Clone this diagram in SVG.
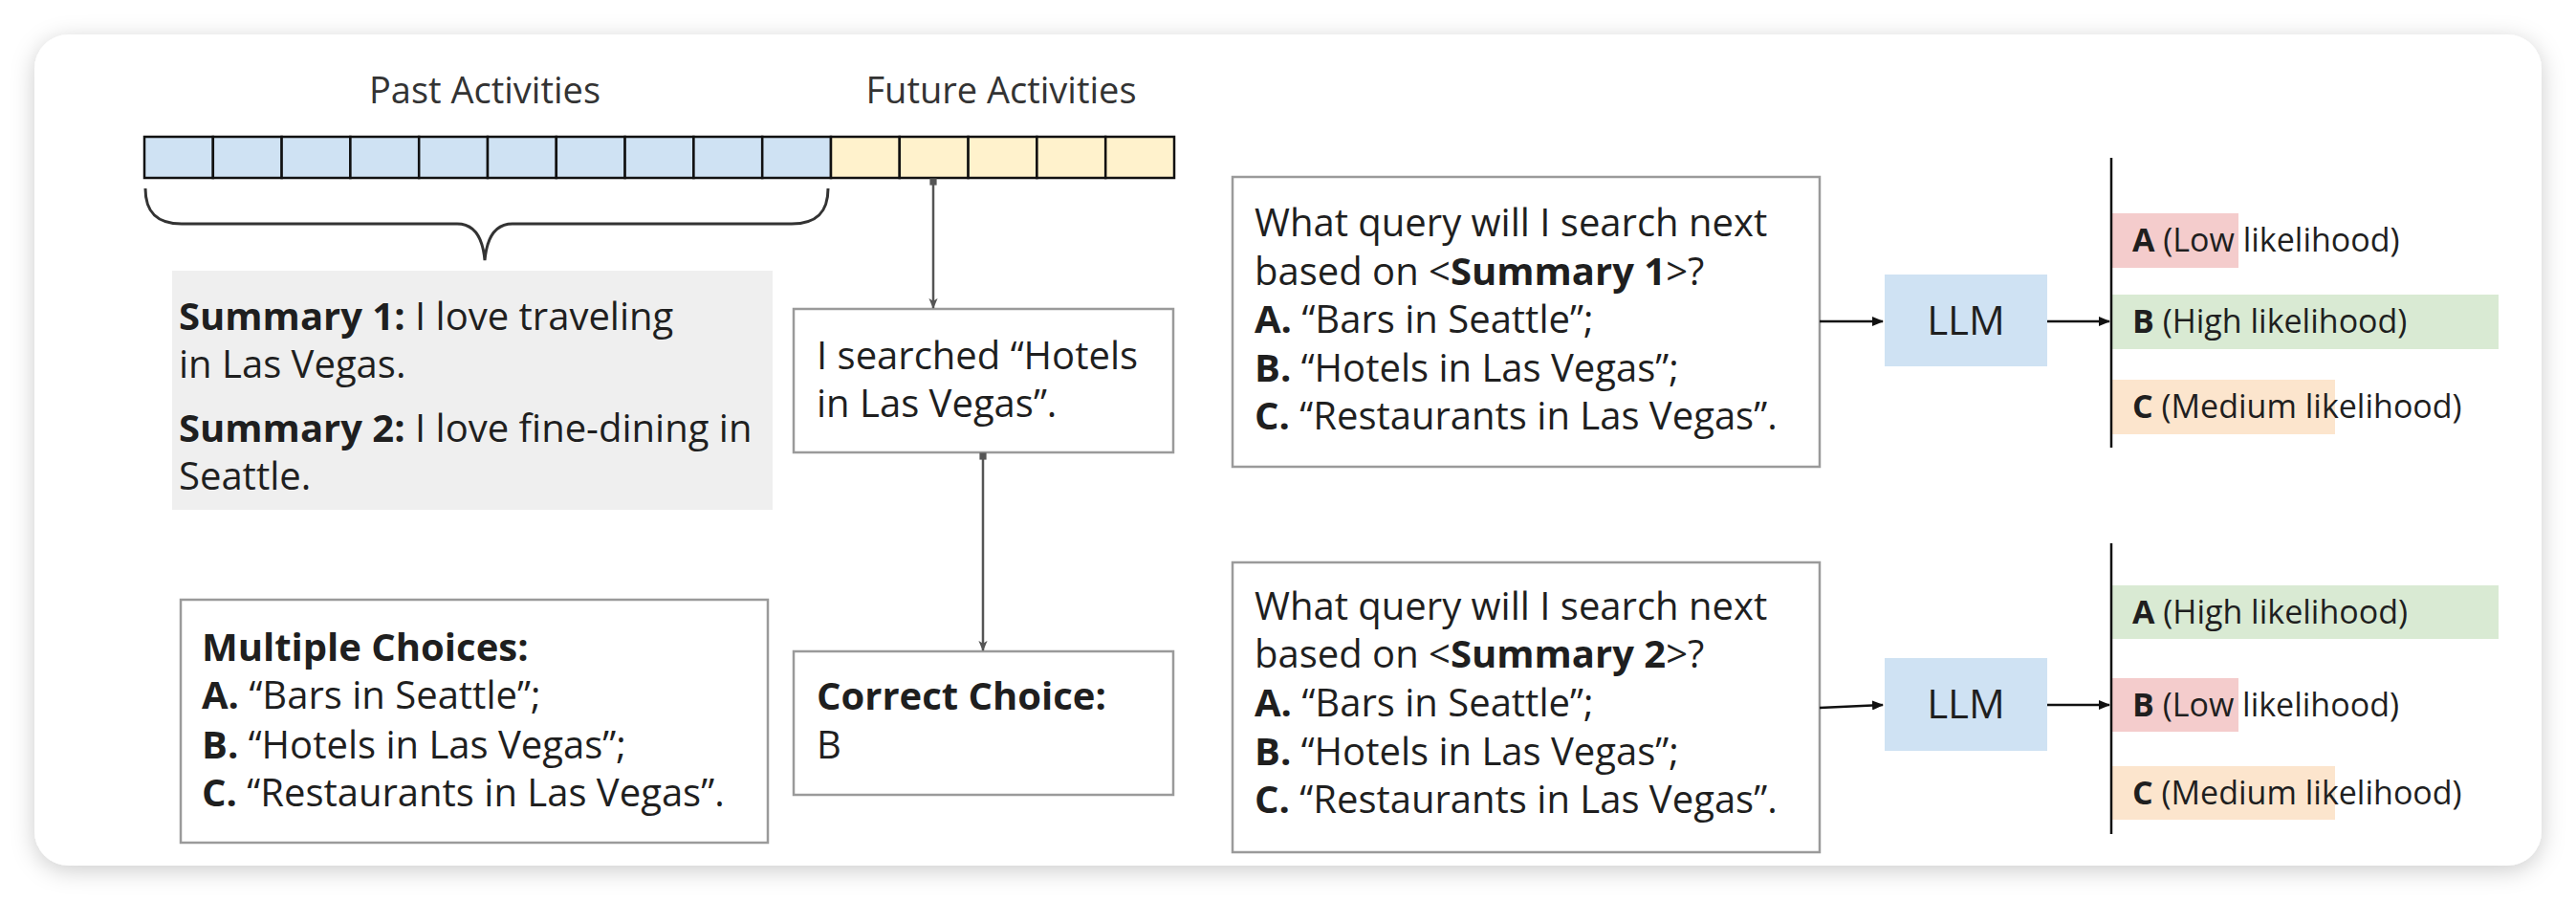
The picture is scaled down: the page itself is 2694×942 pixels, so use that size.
<svg xmlns="http://www.w3.org/2000/svg" width="2694" height="942" viewBox="0 0 2694 942">
<defs>
<filter id="shadow" x="-5%" y="-10%" width="110%" height="125%">
<feDropShadow dx="0" dy="5" stdDeviation="12" flood-color="#000" flood-opacity="0.2"/>
</filter>
<marker id="ah" viewBox="0 0 12 10" refX="11" refY="5" markerWidth="12" markerHeight="10" markerUnits="userSpaceOnUse" orient="auto">
<path d="M0,0 L12,5 L0,10 Z" fill="#111"/>
</marker>
<marker id="ahg" viewBox="0 0 12 10" refX="11" refY="5" markerWidth="11" markerHeight="10" markerUnits="userSpaceOnUse" orient="auto">
<path d="M0,0 L12,5 L0,10 L3,5 Z" fill="#555"/>
</marker>
<marker id="dot" viewBox="0 0 10 10" refX="5" refY="5" markerWidth="9" markerHeight="9" markerUnits="userSpaceOnUse" orient="auto">
<rect x="1" y="1" width="8" height="8" fill="#555"/>
</marker>
</defs>
<style>
text{font-family:"Open Sans","Noto Sans","DejaVu Sans",sans-serif;fill:#1f1f1f}
.t{font-size:40px}
.h{font-size:38px;fill:#333}
.lk{font-size:34px}
.llm{font-size:42px}
.b{font-weight:bold}
.box{fill:#fff;stroke:#9a9a9a;stroke-width:2.5}
.cb{fill:#cfe2f3;stroke:#111;stroke-width:2.5}
.cy{fill:#fff2cc;stroke:#111;stroke-width:2.5}
.red{fill:#f4cccc}
.grn{fill:#d9ead3}
.org{fill:#fce5cd}
.conn{stroke:#111;stroke-width:2.5;fill:none}
.gconn{stroke:#555;stroke-width:2.5;fill:none}
</style>
<rect width="2694" height="942" fill="#fff"/>
<rect id="card" x="36" y="36" width="2622" height="869" rx="36" fill="#fff" filter="url(#shadow)"/>

<g id="labels">
<text class="h" x="507" y="108" text-anchor="middle">Past Activities</text>
<text class="h" x="1047" y="108" text-anchor="middle">Future Activities</text>
</g>

<g id="activity-bar">
<rect class="cb" x="151" y="143" width="71.8" height="43"/>
<rect class="cb" x="222.8" y="143" width="71.8" height="43"/>
<rect class="cb" x="294.6" y="143" width="71.8" height="43"/>
<rect class="cb" x="366.4" y="143" width="71.8" height="43"/>
<rect class="cb" x="438.2" y="143" width="71.8" height="43"/>
<rect class="cb" x="510" y="143" width="71.8" height="43"/>
<rect class="cb" x="581.8" y="143" width="71.8" height="43"/>
<rect class="cb" x="653.6" y="143" width="71.8" height="43"/>
<rect class="cb" x="725.4" y="143" width="71.8" height="43"/>
<rect class="cb" x="797.2" y="143" width="71.8" height="43"/>
<rect class="cy" x="869" y="143" width="71.8" height="43"/>
<rect class="cy" x="940.8" y="143" width="71.8" height="43"/>
<rect class="cy" x="1012.6" y="143" width="71.8" height="43"/>
<rect class="cy" x="1084.4" y="143" width="71.8" height="43"/>
<rect class="cy" x="1156.2" y="143" width="71.8" height="43"/>
</g>

<g id="brace">
<path d="M152,197 C152,222 164,234 190,234 L478,234 C497,234 505,250 507,272 C509,250 517,234 536,234 L828,234 C854,234 866,222 866,197" fill="none" stroke="#333" stroke-width="3"/>
</g>

<g id="summaries">
<rect x="180" y="283" width="628" height="250" fill="#efefef"/>
<text class="t" x="187" y="345"><tspan class="b">Summary 1:</tspan> I love traveling</text>
<text class="t" x="187" y="395">in Las Vegas.</text>
<text class="t" x="187" y="462"><tspan class="b">Summary 2:</tspan> I love fine-dining in</text>
<text class="t" x="187" y="512">Seattle.</text>
</g>

<g id="searched">
<rect class="box" x="830" y="323" width="397" height="150"/>
<text class="t" x="854" y="386">I searched “Hotels</text>
<text class="t" x="854" y="436">in Las Vegas”.</text>
</g>

<g id="correct-choice">
<rect class="box" x="830" y="681" width="397" height="150"/>
<text class="t b" x="854" y="742">Correct Choice:</text>
<text class="t" x="854" y="793">B</text>
</g>

<g id="multiple-choices">
<rect class="box" x="189" y="627" width="614" height="254"/>
<text class="t b" x="211" y="691">Multiple Choices:</text>
<text class="t" x="211" y="741"><tspan class="b">A.</tspan> “Bars in Seattle”;</text>
<text class="t" x="211" y="793"><tspan class="b">B.</tspan> “Hotels in Las Vegas”;</text>
<text class="t" x="211" y="843"><tspan class="b">C.</tspan> “Restaurants in Las Vegas”.</text>
</g>

<g id="query1">
<rect class="box" x="1289" y="185" width="614" height="303"/>
<text class="t" x="1312" y="247">What query will I search next</text>
<text class="t" x="1312" y="298">based on &lt;<tspan class="b">Summary 1</tspan>&gt;?</text>
<text class="t" x="1312" y="348"><tspan class="b">A.</tspan> “Bars in Seattle”;</text>
<text class="t" x="1312" y="399"><tspan class="b">B.</tspan> “Hotels in Las Vegas”;</text>
<text class="t" x="1312" y="449"><tspan class="b">C.</tspan> “Restaurants in Las Vegas”.</text>
</g>

<g id="query2">
<rect class="box" x="1289" y="588" width="614" height="303"/>
<text class="t" x="1312" y="648">What query will I search next</text>
<text class="t" x="1312" y="698">based on &lt;<tspan class="b">Summary 2</tspan>&gt;?</text>
<text class="t" x="1312" y="749"><tspan class="b">A.</tspan> “Bars in Seattle”;</text>
<text class="t" x="1312" y="800"><tspan class="b">B.</tspan> “Hotels in Las Vegas”;</text>
<text class="t" x="1312" y="850"><tspan class="b">C.</tspan> “Restaurants in Las Vegas”.</text>
</g>

<g id="llm1">
<rect x="1971" y="287" width="170" height="96" fill="#cfe2f3"/>
<text class="llm" x="2056" y="350" text-anchor="middle">LLM</text>
</g>

<g id="llm2">
<rect x="1971" y="688" width="170" height="97" fill="#cfe2f3"/>
<text class="llm" x="2056" y="751" text-anchor="middle">LLM</text>
</g>

<g id="results1">
<rect class="red" x="2208" y="223" width="133" height="57"/>
<rect class="grn" x="2208" y="308" width="405" height="57"/>
<rect class="org" x="2208" y="397" width="234" height="57"/>
<text class="lk" x="2230" y="263"><tspan class="b">A</tspan> (Low likelihood)</text>
<text class="lk" x="2230" y="348"><tspan class="b">B</tspan> (High likelihood)</text>
<text class="lk" x="2230" y="437"><tspan class="b">C</tspan> (Medium likelihood)</text>
<line x1="2208" y1="165" x2="2208" y2="468" stroke="#111" stroke-width="2.5"/>
</g>

<g id="results2">
<rect class="grn" x="2208" y="612" width="405" height="56"/>
<rect class="red" x="2208" y="709" width="133" height="56"/>
<rect class="org" x="2208" y="801" width="234" height="56"/>
<text class="lk" x="2230" y="652"><tspan class="b">A</tspan> (High likelihood)</text>
<text class="lk" x="2230" y="749"><tspan class="b">B</tspan> (Low likelihood)</text>
<text class="lk" x="2230" y="841"><tspan class="b">C</tspan> (Medium likelihood)</text>
<line x1="2208" y1="568" x2="2208" y2="872" stroke="#111" stroke-width="2.5"/>
</g>

<g id="connectors">
<line class="gconn" x1="976" y1="190" x2="976" y2="322" marker-start="url(#dot)" marker-end="url(#ahg)"/>
<line class="gconn" x1="1028" y1="477" x2="1028" y2="680" marker-start="url(#dot)" marker-end="url(#ahg)"/>
<line class="conn" x1="1903" y1="336" x2="1969" y2="336" marker-end="url(#ah)"/>
<line class="conn" x1="2141" y1="336" x2="2206" y2="336" marker-end="url(#ah)"/>
<line class="conn" x1="1903" y1="740" x2="1969" y2="737" marker-end="url(#ah)"/>
<line class="conn" x1="2141" y1="737" x2="2206" y2="737" marker-end="url(#ah)"/>
</g>
</svg>
